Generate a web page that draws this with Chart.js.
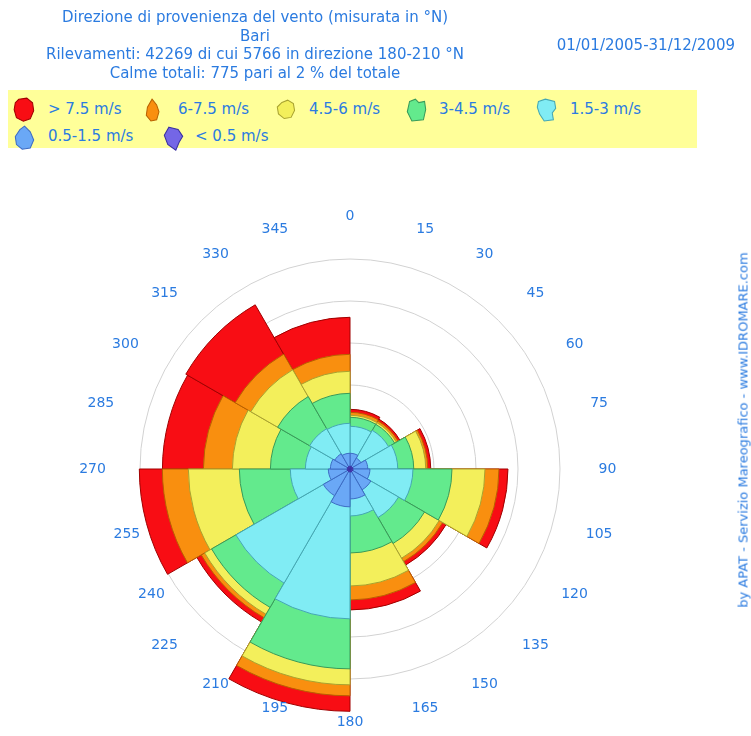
<!DOCTYPE html>
<html>
<head>
<meta charset="utf-8">
<script src="https://cdn.jsdelivr.net/npm/chart.js@4.4.0/dist/chart.umd.min.js"></script>
<style>
  body { margin:0; width:751px; height:736px; overflow:hidden; background:#fff;
         font-family:'DejaVu Sans', sans-serif; color:#2b7be0; position:relative; }
  #chartBox { position:absolute; left:0; top:0; width:751px; height:736px; }
  #hdr { position:absolute; left:0; top:8px; width:510px; text-align:center; font-size:15px; line-height:18.7px; }
  #period { position:absolute; right:16px; top:36px; font-size:15px; }
  #legend { position:absolute; left:8px; top:90px; width:689px; height:58px; background:#ffff99; }
  .li { position:absolute; font-size:15px; line-height:18px; white-space:nowrap; }
  .ico { position:absolute; }
  #credit { position:absolute; left:743px; top:430px; transform:translate(-50%,-50%) rotate(-90deg);
            font-size:13px; white-space:nowrap; }
</style>
</head>
<body>
<div id="chartBox"><canvas id="rose" width="751" height="736"></canvas></div>
<div id="hdr">
  Direzione di provenienza del vento (misurata in °N)<br>
  Bari<br>
  Rilevamenti: 42269 di cui 5766 in direzione 180-210 °N<br>
  Calme totali: 775 pari al 2 % del totale
</div>
<div id="period">01/01/2005-31/12/2009</div>
<div id="legend"></div>
<div id="credit">by APAT - Servizio Mareografico - www.IDROMARE.com</div>

<script>
// direction sectors (°N), clockwise from north
const sectors = ['0-30', '30-60', '60-90', '90-120', '120-150', '150-180',
                 '180-210', '210-240', '240-270', '270-300', '300-330', '330-360'];

// observations per sector and speed class
const below05 = [64, 62, 66, 70, 72, 70, 68, 66, 64, 62, 62, 64];
const s05_15  = [310, 238, 357, 405, 500, 643, 833, 667, 452, 405, 357, 310];
const s15_3   = [643, 762, 714, 1024, 762, 405, 2667, 2405, 905, 595, 690, 714];
const s3_45   = [214, 167, 381, 929, 714, 881, 1190, 667, 1214, 833, 881, 714];
const s45_6   = [48, 48, 286, 786, 405, 786, 381, 190, 1214, 905, 738, 524];
const s6_75   = [71, 48, 48, 333, 95, 333, 262, 95, 619, 690, 429, 405];
const above75 = [71, 48, 71, 214, 95, 238, 368, 119, 548, 976, 1357, 881];

const angleTicks = [0, 15, 30, 45, 60, 75, 90, 105, 120, 135, 150, 165,
                    180, 195, 210, 225, 240, 255, 270, 285, 300, 315, 330, 345];

// inner to outer
const classes = ['< 0.5 m/s', '0.5-1.5 m/s', '1.5-3 m/s', '3-4.5 m/s', '4.5-6 m/s', '6-7.5 m/s', '> 7.5 m/s'];
const classData = [below05, s05_15, s15_3, s3_45, s45_6, s6_75, above75];
const fills   = ['#7466e6', '#6aa8f6', '#80ecf4', '#63ea8d', '#f3ef5b', '#f98f0f', '#f80d14'];
const borders = ['#3a30a0', '#3d6cc4', '#45a7b3', '#389a5a', '#a8a230', '#b86000', '#a00000'];

const textBlue = '#2b7be0';

// stacked radii: each dataset is the running total, smallest drawn on top
let running = sectors.map(() => 0);
const datasets = classData.map((arr, k) => {
  running = running.map((v, i) => v + arr[i]);
  return {
    label: classes[k],
    data: running.slice(),
    backgroundColor: fills[k],
    borderColor: borders[k],
    borderWidth: 1
  };
});

// the original pulls these two labels in towards the rose
const labelNudge = { 240: 26, 255: 26 };

// direction labels every 15 degrees, just outside the rose
const angleLabels = {
  id: 'angleLabels',
  afterDraw(chart) {
    const s = chart.scales.r;
    const ctx = chart.ctx;
    ctx.save();
    ctx.font = '14px "DejaVu Sans"';
    ctx.fillStyle = textBlue;
    ctx.textAlign = 'center';
    ctx.textBaseline = 'middle';
    const r = s.drawingArea - 6;
    angleTicks.forEach(a => {
      const rad = a * Math.PI / 180;
      const sn = Math.sin(rad), cs = Math.cos(rad);
      const onAxis = Math.abs(sn) < 1e-6;
      let dx = onAxis ? 0 : Math.sign(sn) * 11.5;
      const dy = Math.abs(cs) < 1e-6 ? 0 : -Math.sign(cs) * (onAxis ? 7 : 2);
      if (labelNudge[a]) dx += labelNudge[a];
      ctx.fillText(String(a), s.xCenter + sn * r + dx, s.yCenter - cs * r + dy);
    });
    ctx.restore();
  }
};

new Chart(document.getElementById('rose').getContext('2d'), {
  type: 'polarArea',
  data: { labels: sectors, datasets: datasets },
  options: {
    responsive: false,
    animation: false,
    layout: { padding: { left: 98, right: 149, top: 217, bottom: 15 } },
    plugins: { legend: { display: false }, tooltip: { enabled: false } },
    scales: {
      r: {
        min: 0,
        max: 6000,
        startAngle: 0,
        angleLines: { display: false },
        grid: {
          circular: true,
          lineWidth: 1,
          color: c => (c.tick && c.tick.value >= 6000) ? 'rgba(0,0,0,0)' : '#d2d2d2'
        },
        ticks: { display: false, stepSize: 1000 },
        pointLabels: { display: false }
      }
    }
  },
  plugins: [angleLabels]
});

// legend (outer class first, as in the original)
const legendPos = [[5, 7], [136, 8], [267, 9], [397, 8], [527, 8], [5, 35], [154, 36]];
const textX     = [40, 170, 301, 431, 562, 40, 187];
const blobs = [
  'M5,2 L12,1 L17,5 L18,12 L15,19 L9,21 L3,18 L1,11 L2,5 Z',
  'M7,1 L11,6 L13,12 L11,19 L6,20 L2,15 L3,8 Z',
  'M6,3 L11,1 L16,4 L17,10 L14,16 L8,17 L3,13 L2,7 Z',
  'M4,3 L9,1 L12,4 L17,3 L18,10 L16,19 L6,20 L2,12 Z',
  'M3,3 L9,1 L17,3 L18,9 L15,13 L16,19 L8,20 L4,14 L2,8 Z',
  'M10,1 L15,6 L18,13 L15,20 L8,21 L3,17 L2,10 L6,4 Z',
  'M6,1 L14,3 L18,9 L15,14 L12,21 L5,16 L2,8 Z'
];
const legend = document.getElementById('legend');
for (let j = 0; j < classes.length; j++) {
  const k = classes.length - 1 - j;
  const [x, y] = legendPos[j];
  const ico = document.createElementNS('http://www.w3.org/2000/svg', 'svg');
  ico.setAttribute('class', 'ico');
  ico.setAttribute('width', '24');
  ico.setAttribute('height', '26');
  ico.style.left = x + 'px';
  ico.style.top = y + 'px';
  const p = document.createElementNS('http://www.w3.org/2000/svg', 'path');
  p.setAttribute('d', blobs[j]);
  p.setAttribute('transform', 'scale(1.15)');
  p.setAttribute('fill', fills[k]);
  p.setAttribute('stroke', borders[k]);
  p.setAttribute('stroke-width', '0.9');
  ico.appendChild(p);
  legend.appendChild(ico);
  const t = document.createElement('div');
  t.className = 'li';
  t.textContent = classes[k];
  t.style.left = textX[j] + 'px';
  t.style.top = (legendPos[j][1] < 20 ? 10 : 37) + 'px';
  legend.appendChild(t);
}
</script>
</body>
</html>
